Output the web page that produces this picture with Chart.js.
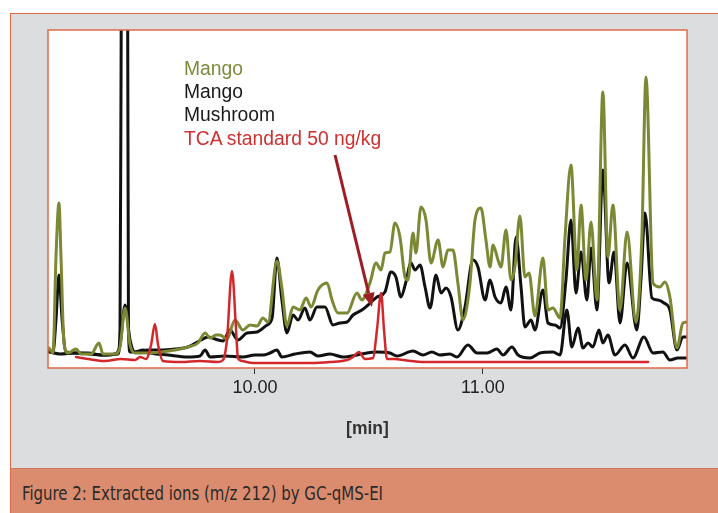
<!DOCTYPE html>
<html>
<head>
<meta charset="utf-8">
<script src="https://cdn.jsdelivr.net/npm/chart.js@4/dist/chart.umd.min.js"></script>
<style>
  html, body { margin:0; padding:0; background:#ffffff; }
  body { width:718px; height:513px; overflow:hidden; position:relative; }
  #panel { position:absolute; left:10px; top:13px; width:760px; height:520px; background:#dcdddf; border:1.5px solid #e0694b; box-sizing:border-box; }
  #cap { position:absolute; left:10px; top:468px; width:760px; height:60px; background:#dc8c6e; border-top:1px solid #d47a5c; border-left:1.5px solid #e0694b; box-sizing:border-box; }
  #capText { position:absolute; left:22px; top:484px; font-family:"DejaVu Sans Condensed","DejaVu Sans",sans-serif; font-stretch:condensed; font-size:19px; line-height:19px; color:#2a2a2a; white-space:nowrap; transform-origin:0 50%; }
  #c { position:absolute; left:0; top:0; }
  .leg { position:absolute; left:184px; font-family:"Liberation Sans",Arial,sans-serif; font-size:19.3px; line-height:19.3px; white-space:nowrap; }
</style>
</head>
<body>
<div id="panel"></div>
<div id="cap"></div>
<div id="capText">Figure 2: Extracted ions (m/z 212) by GC-qMS-EI</div>
<canvas id="c" width="718" height="513"></canvas>
<div class="leg" style="top:58.7px;color:#7d8a3c">Mango</div>
<div class="leg" style="top:82px;color:#1a1a1a">Mango</div>
<div class="leg" style="top:105.4px;color:#1a1a1a">Mushroom</div>
<div class="leg" style="top:128.7px;color:#cf3030">TCA standard 50 ng/kg</div>
<script>
// ---- data (retention time in min, abundance in arbitrary units) ----
const tickValues = [10, 11];

const mangoOliveTime = [9.096,9.114,9.127,9.140,9.149,9.162,9.180,9.215,9.237,9.281,9.316,9.333,9.386,9.408,9.430,9.452,9.474,9.531,9.588,9.649,9.706,9.750,9.781,9.803,9.829,9.846,9.877,9.912,9.947,9.978,10.009,10.035,10.057,10.096,10.118,10.140,10.167,10.197,10.224,10.246,10.276,10.316,10.338,10.364,10.404,10.447,10.469,10.504,10.531,10.553,10.570,10.592,10.614,10.636,10.658,10.671,10.693,10.706,10.728,10.750,10.772,10.803,10.825,10.846,10.868,10.890,10.912,10.943,10.965,10.991,11.013,11.031,11.044,11.066,11.079,11.101,11.123,11.140,11.162,11.184,11.202,11.228,11.263,11.285,11.307,11.338,11.360,11.386,11.412,11.430,11.452,11.474,11.500,11.526,11.548,11.570,11.601,11.632,11.671,11.697,11.715,11.746,11.776,11.798,11.820,11.851,11.877,11.895];
const mangoOliveInt = [20,15,111,165,111,25,15,19,14,14,25,14,14,21,60,23,15,15,16,18,21,25,35,30,33,33,29,48,38,43,42,50,46,107,80,42,61,58,70,61,78,85,68,55,55,75,68,85,105,98,115,116,145,131,91,88,135,115,161,148,105,128,101,118,118,85,48,85,148,160,128,101,123,108,101,138,88,101,152,91,95,52,110,58,60,50,131,203,98,163,88,146,68,276,111,163,58,136,46,131,291,85,81,86,71,20,45,46];

const mangoBlackTime = [9.096,9.114,9.127,9.140,9.154,9.171,9.211,9.268,9.325,9.386,9.408,9.430,9.452,9.474,9.531,9.588,9.649,9.706,9.763,9.794,9.838,9.860,9.890,9.925,9.965,10.009,10.053,10.075,10.096,10.118,10.140,10.167,10.189,10.219,10.241,10.272,10.307,10.342,10.373,10.404,10.430,10.469,10.496,10.535,10.570,10.596,10.618,10.640,10.662,10.684,10.702,10.724,10.746,10.768,10.794,10.816,10.838,10.860,10.890,10.921,10.956,10.978,11.009,11.031,11.053,11.079,11.101,11.123,11.145,11.167,11.184,11.211,11.228,11.263,11.285,11.316,11.338,11.364,11.386,11.408,11.430,11.456,11.474,11.500,11.526,11.553,11.575,11.601,11.632,11.675,11.693,11.711,11.741,11.768,11.794,11.820,11.851,11.877,11.895];
const mangoBlackInt = [18,16,48,93,48,16,15,15,13,14,23,63,28,16,18,18,19,21,28,31,28,27,38,28,35,36,43,50,110,68,35,53,48,60,48,61,61,43,45,46,53,58,63,71,76,96,91,71,86,105,98,103,81,60,93,75,80,71,38,61,108,101,68,88,71,65,81,58,131,81,41,48,38,78,45,43,40,88,148,75,116,68,120,58,198,85,116,45,105,38,88,155,70,68,65,58,18,31,31];

const mushroomTime = [9.096,9.145,9.211,9.276,9.342,9.399,9.408,9.414,9.428,9.441,9.445,9.452,9.474,9.509,9.544,9.618,9.706,9.759,9.781,9.803,9.868,9.947,10.000,10.035,10.066,10.096,10.118,10.175,10.241,10.276,10.329,10.386,10.447,10.491,10.535,10.592,10.623,10.693,10.737,10.776,10.811,10.855,10.886,10.934,10.974,11.018,11.061,11.088,11.127,11.154,11.206,11.250,11.307,11.338,11.368,11.390,11.417,11.439,11.461,11.482,11.509,11.526,11.548,11.579,11.623,11.658,11.706,11.746,11.789,11.820,11.855,11.895];
const mushroomInt = [16,14,15,14,13,14,40,400,768,400,40,16,16,18,15,13,11,12,18,11,12,11,13,13,15,18,11,14,16,12,14,11,13,15,16,15,12,17,13,16,13,14,11,23,15,15,19,13,21,13,10,15,16,13,58,21,40,20,25,21,38,25,33,13,23,10,31,15,16,8,10,10];

const tcaTime = [9.215,9.268,9.342,9.412,9.474,9.496,9.522,9.544,9.561,9.575,9.596,9.675,9.759,9.838,9.860,9.877,9.899,9.917,9.925,9.943,9.991,10.110,10.241,10.329,10.404,10.430,10.456,10.482,10.518,10.535,10.553,10.566,10.579,10.614,10.649,10.746,10.899,11.075,11.294,11.513,11.724];
const tcaInt = [11,9,7,9,8,11,9,23,44,23,7,6,7,6,8,28,97,38,10,7,5,5,5,6,8,11,16,9,10,38,75,38,9,9,8,6,6,6,6,6,6];

// annotation arrow pointing at the TCA peak (data coordinates)
const arrowFrom = {x:10.351, y:213};
const arrowTo = {x:10.513, y:61};

const xMin = 9.092, xMax = 11.895, yMin = 0, yMax = 338;

function pts(t, v){ return t.map((x,i)=>({x:x, y:v[i]})); }

const framePlugin = {
  id:'frame',
  beforeDatasetsDraw(chart){
    const {ctx, chartArea:a} = chart;
    ctx.save();
    ctx.fillStyle = '#ffffff';
    ctx.fillRect(a.left, a.top, a.right-a.left, a.bottom-a.top);
    ctx.restore();
  },
  afterDatasetsDraw(chart){
    const {ctx, chartArea:a, scales:{x, y}} = chart;
    ctx.save();
    const x0 = x.getPixelForValue(arrowFrom.x), y0 = y.getPixelForValue(arrowFrom.y);
    const x1 = x.getPixelForValue(arrowTo.x), y1 = y.getPixelForValue(arrowTo.y);
    const ang = Math.atan2(y1-y0, x1-x0);
    const hl = 14, hw = 6;
    const bx = x1 - hl*Math.cos(ang), by = y1 - hl*Math.sin(ang);
    ctx.strokeStyle = '#9d1d20';
    ctx.fillStyle = '#9d1d20';
    ctx.lineWidth = 3;
    ctx.beginPath(); ctx.moveTo(x0,y0); ctx.lineTo(bx,by); ctx.stroke();
    ctx.beginPath();
    ctx.moveTo(x1,y1);
    ctx.lineTo(bx + hw*Math.sin(ang), by - hw*Math.cos(ang));
    ctx.lineTo(bx - hw*Math.sin(ang), by + hw*Math.cos(ang));
    ctx.closePath(); ctx.fill();
    ctx.strokeStyle = '#e0694b';
    ctx.lineWidth = 1.5;
    ctx.strokeRect(a.left, a.top, a.right-a.left, a.bottom-a.top);
    ctx.restore();
  }
};

new Chart(document.getElementById('c'), {
  type:'line',
  data:{ datasets:[
    {label:'TCA standard 50 ng/kg', data:pts(tcaTime,tcaInt), borderColor:'#d2282c', borderWidth:2.5},
    {label:'Mango', data:pts(mangoOliveTime,mangoOliveInt), borderColor:'#7c8834', borderWidth:3},
    {label:'Mango', data:pts(mangoBlackTime,mangoBlackInt), borderColor:'#111111', borderWidth:3},
    {label:'Mushroom', data:pts(mushroomTime,mushroomInt), borderColor:'#111111', borderWidth:3}
  ]},
  options:{
    responsive:false, animation:false, devicePixelRatio:1,
    elements:{ point:{radius:0}, line:{cubicInterpolationMode:'monotone', borderJoinStyle:'round', borderCapStyle:'round', fill:false} },
    layout:{ padding:{left:48, right:31, top:30, bottom:70} },
    plugins:{ legend:{display:false}, tooltip:{enabled:false} },
    scales:{
      x:{ type:'linear', min:xMin, max:xMax,
        afterBuildTicks:(s)=>{ s.ticks = tickValues.map(v=>({value:v})); },
        afterFit:(s)=>{ s.height = 75; },
        ticks:{ callback:(v)=>Number(v).toFixed(2), font:{family:'"Liberation Sans",Arial,sans-serif', size:18}, color:'#222222', padding:3, maxRotation:0, autoSkip:false },
        grid:{ drawOnChartArea:false, drawTicks:true, tickLength:6, tickColor:'#333333', tickWidth:1 },
        border:{ display:false },
        title:{ display:true, text:'[min]', color:'#333333', font:{family:'"Liberation Sans",Arial,sans-serif', size:17.5, weight:'bold'}, padding:{top:0, bottom:3} }
      },
      y:{ display:false, min:yMin, max:yMax }
    }
  },
  plugins:[framePlugin]
});

// fit the condensed caption to its width in the reference layout
(function(){
  const el = document.getElementById('capText');
  const w = el.getBoundingClientRect().width;
  if (w > 0) el.style.transform = 'scaleX(' + (361 / w) + ')';
})();
</script>
</body>
</html>
